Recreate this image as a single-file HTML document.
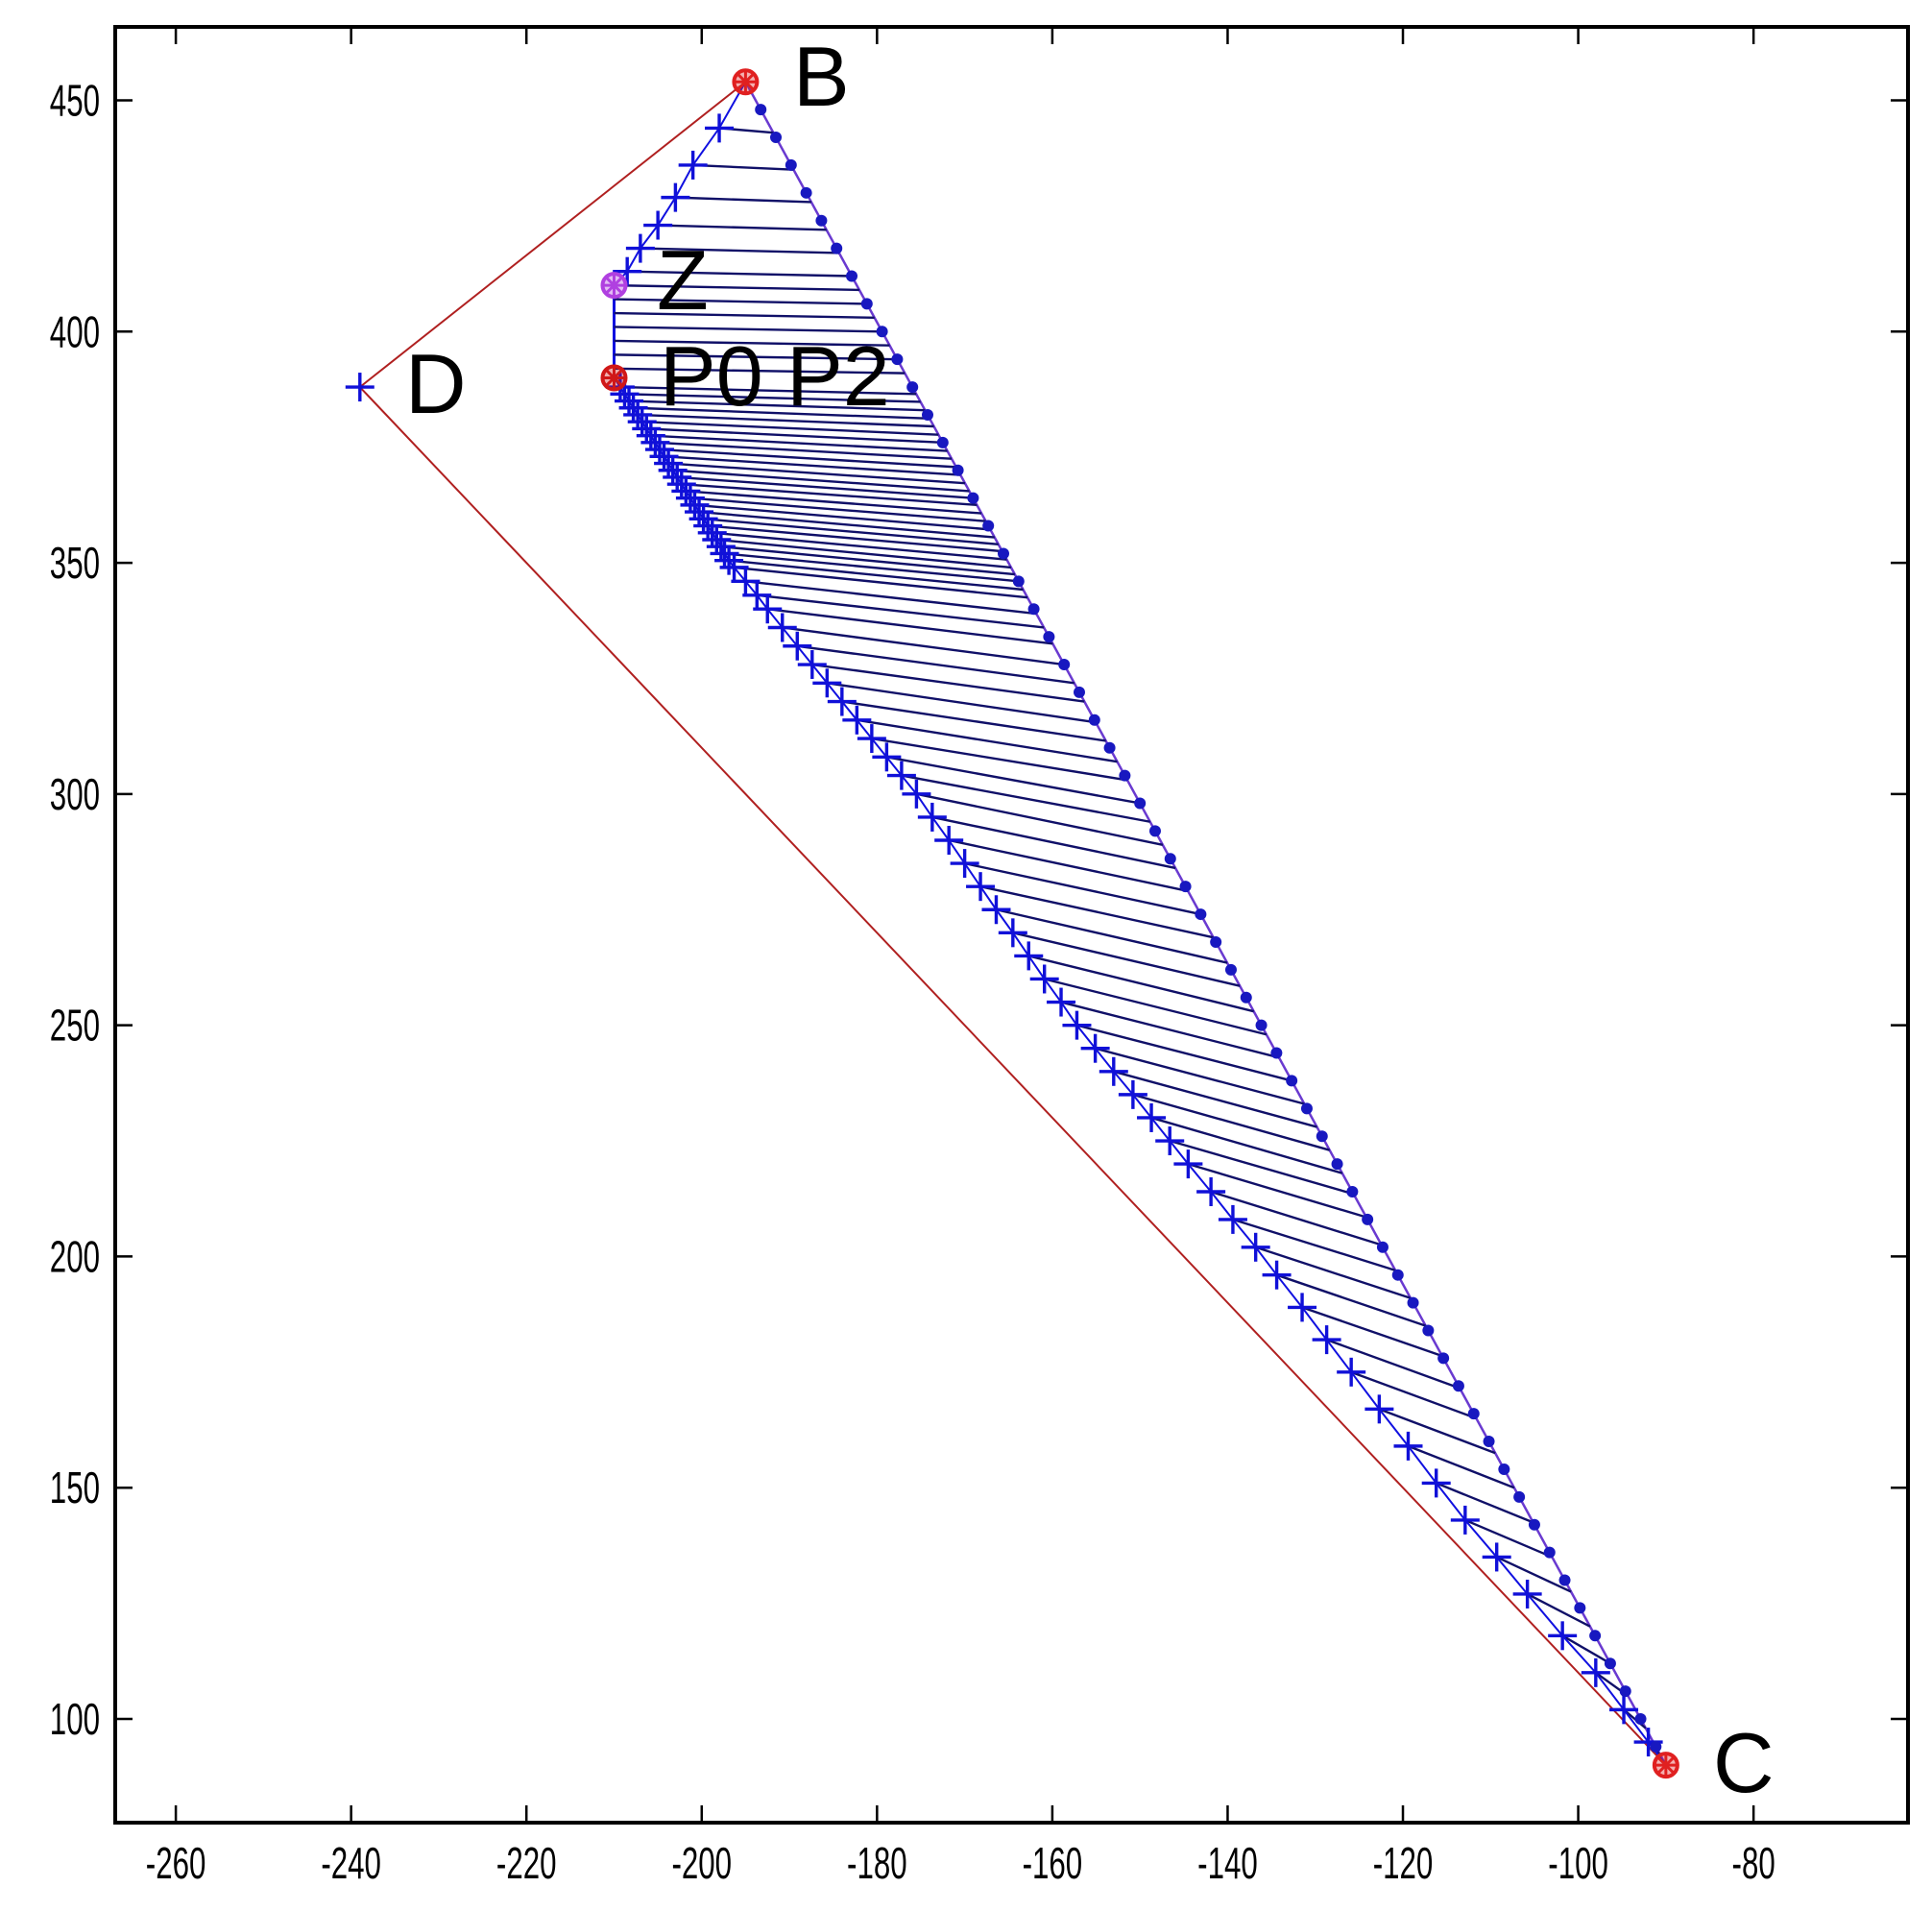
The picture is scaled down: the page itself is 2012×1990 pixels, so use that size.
<!DOCTYPE html>
<html><head><meta charset="utf-8"><style>
html,body{margin:0;padding:0;background:#fff;}
svg{display:block;}
</style></head><body>
<svg id="chart" width="2012" height="1990" viewBox="0 0 2012 1990" xmlns="http://www.w3.org/2000/svg">
<rect x="0" y="0" width="2012" height="1990" fill="#fff"/>
<g id="marks"></g>
<g id="axes"></g>
</svg>
<script>
const xTicks=[-260,-240,-220,-200,-180,-160,-140,-120,-100,-80];
const yTicks=[100,150,200,250,300,350,400,450];
const ptB=[-195,454], ptC=[-90,90], ptD=[-239,388], ptP0=[-210,390], ptZ=[-210,410];
const upperX=[-198,-201,-203,-205,-207,-208.5,-210];
const upperY=[444,436,429,423,418,413,410];
const upperEndY=[443,435,428,422,417,412,409];
const vertY=[407,404,401,398,395,392];
const vertEndY=[406,403,400,397,394,391];
const lowerY=[388,386.5,385,383.5,382,380.5,379,377.5,376,374.5,373,371.5,370,368.5,367,365.5,364,362.5,361,359.5,358,356.5,355,353.5,352,350.5,349,346,343,340,336,332,328,324,320,316,312,308,304,300,295,290,285,280,275,270,265,260,255,250,245,240,235,230,225,220,214,208,202,196,189,182,175,167,159,151,143,135,127,118,110,102,95];
const lowerX=[-209.3,-208.8,-208.3,-207.8,-207.3,-206.8,-206.3,-205.8,-205.3,-204.8,-204.3,-203.8,-203.3,-202.8,-202.3,-201.8,-201.3,-200.8,-200.3,-199.8,-199.3,-198.8,-198.3,-197.8,-197.4,-196.9,-196.3,-195,-193.7,-192.5,-190.8,-189.1,-187.4,-185.7,-184,-182.3,-180.6,-178.9,-177.2,-175.5,-173.7,-171.8,-170,-168.2,-166.4,-164.5,-162.7,-160.9,-159,-157.2,-155.1,-153,-150.8,-148.7,-146.6,-144.5,-141.9,-139.4,-136.8,-134.4,-131.5,-128.7,-125.9,-122.7,-119.4,-116.2,-112.9,-109.3,-105.8,-101.8,-98,-94.8,-92];
const lowerEndY=[386.5,384.8,383,381.2,379.5,377.7,376,374.2,372.5,370.7,369,367.2,365.5,364,362.5,360.7,359,357.2,355.5,354,352.5,350.7,349,347.5,346,344.2,342.5,339,336,332.5,328,324,320,315.5,311.5,307,303,298,294,289,284,279,274,269,263.5,258.5,253,248,243,238,233,228,223,218,213.5,208.5,202.5,197,191,185,178.5,171.5,165,157.5,150,142.5,135,127.5,120,112,105,98,92];
const dotY=[448,442,436,430,424,418,412,406,400,394,388,382,376,370,364,358,352,346,340,334,328,322,316,310,304,298,292,286,280,274,268,262,256,250,244,238,232,226,220,214,208,202,196,190,184,178,172,166,160,154,148,142,136,130,124,118,112,106,100,94];

const L=120,R=1987,T=28,B=1898;
function sx(v){return 183.1+(v+260)*9.128;}
function sy(v){return 104.5+(450-v)*4.8157;}
function bcX(y){return ptB[0]+(ptB[1]-y)/(ptB[1]-ptC[1])*(ptC[0]-ptB[0]);}
const NS='http://www.w3.org/2000/svg';
const marks=document.getElementById('marks'), axes=document.getElementById('axes');
function mk(tag,attrs,parent){const e=document.createElementNS(NS,tag);for(const k in attrs)e.setAttribute(k,attrs[k]);parent.appendChild(e);return e;}
function plus(x,y,name){const g=mk('g',{},marks);


mk('line',{x1:x-15,y1:y,x2:x+15,y2:y,stroke:'#1010d8','stroke-width':3.4},g);
mk('line',{x1:x,y1:y-15,x2:x,y2:y+15,stroke:'#1010d8','stroke-width':3.4},g);}
function star(x,y,col,name){const g=mk('g',{},marks);


mk('circle',{cx:x,cy:y,r:12,fill:col,'fill-opacity':0.35,stroke:col,'stroke-width':4},g);
for(let a=0;a<4;a++){const t=a*Math.PI/4;mk('line',{x1:x-12*Math.cos(t),y1:y-12*Math.sin(t),x2:x+12*Math.cos(t),y2:y+12*Math.sin(t),stroke:col,'stroke-width':3},g);}}

let e=mk('polyline',{points:`${sx(ptB[0])},${sy(ptB[1])} ${sx(ptD[0])},${sy(ptD[1])} ${sx(ptC[0])},${sy(ptC[1])}`,fill:'none',stroke:'#b02020','stroke-width':2},marks);


e=mk('line',{x1:sx(ptB[0]),y1:sy(ptB[1]),x2:sx(ptC[0]),y2:sy(ptC[1]),stroke:'#6a3ad0','stroke-width':2.5},marks);


e=mk('line',{x1:sx(ptZ[0]),y1:sy(ptZ[1]),x2:sx(ptP0[0]),y2:sy(ptP0[1]),stroke:'#1010e0','stroke-width':3},marks);


function fan(xs,ys,ey,name){for(let i=0;i<ys.length;i++){const x=Array.isArray(xs)?xs[i]:xs;
const l=mk('line',{x1:sx(x),y1:sy(ys[i]),x2:sx(bcX(ey[i])),y2:sy(ey[i]),stroke:'#101068','stroke-width':2.4},marks);

}}
fan(upperX,upperY,upperEndY,'fan-line');
fan(ptZ[0],vertY,vertEndY,'fan-line');
fan(lowerX,lowerY,lowerEndY,'fan-line');
let pts=upperX.map((x,i)=>`${sx(x)},${sy(upperY[i])}`).join(' ');
e=mk('polyline',{points:`${sx(ptB[0])},${sy(ptB[1])} `+pts,fill:'none',stroke:'#1010e0','stroke-width':2},marks);


pts=lowerX.map((x,i)=>`${sx(x)},${sy(lowerY[i])}`).join(' ');
e=mk('polyline',{points:`${sx(ptP0[0])},${sy(ptP0[1])} `+pts+` ${sx(ptC[0])},${sy(ptC[1])}`,fill:'none',stroke:'#1010e0','stroke-width':2},marks);


for(let i=0;i<upperX.length-1;i++)plus(sx(upperX[i]),sy(upperY[i]),'curve-marker');
for(let i=0;i<lowerX.length;i++)plus(sx(lowerX[i]),sy(lowerY[i]),'curve-marker');
plus(sx(ptD[0]),sy(ptD[1]),'point-d-marker');
for(let i=0;i<dotY.length;i++){const c=mk('circle',{cx:sx(bcX(dotY[i])),cy:sy(dotY[i]),r:6,fill:'#1818c0'},marks);

}
star(sx(ptB[0]),sy(ptB[1]),'#e02020','point-b-marker');
star(sx(ptC[0]),sy(ptC[1]),'#e02020','point-c-marker');
star(sx(ptP0[0]),sy(ptP0[1]),'#d01818','point-p0-marker');
star(sx(ptZ[0]),sy(ptZ[1]),'#b040e0','point-z-marker');
const labs=[['B',826,110,'label-b'],['Z',684,322,'label-z'],['P0 P2',687,422,'label-p0-p2'],['D',422,430,'label-d'],['C',1784,1866,'label-c']];
for(const [t,x,y,n] of labs){const tx=mk('text',{x:x,y:y,'font-family':'Liberation Sans, sans-serif','font-size':88,fill:'#000'},marks);
tx.textContent=t;

}
e=mk('rect',{x:L,y:T,width:R-L,height:B-T,fill:'none',stroke:'#000','stroke-width':4},axes);


for(const v of xTicks){const x=sx(v);
mk('line',{x1:x,y1:B,x2:x,y2:B-18,stroke:'#000','stroke-width':2.5},axes);
mk('line',{x1:x,y1:T,x2:x,y2:T+18,stroke:'#000','stroke-width':2.5},axes);
const t=mk('text',{x:x,y:1956,'text-anchor':'middle','font-family':'Liberation Sans, sans-serif','font-size':46,fill:'#000',transform:`translate(${x},0) scale(0.68,1) translate(${-x},0)`},axes);
t.textContent=String(v);

}
for(const v of yTicks){const y=sy(v);
mk('line',{x1:L,y1:y,x2:L+18,y2:y,stroke:'#000','stroke-width':2.5},axes);
mk('line',{x1:R,y1:y,x2:R-18,y2:y,stroke:'#000','stroke-width':2.5},axes);
const t=mk('text',{x:104,y:y+16,'text-anchor':'end','font-family':'Liberation Sans, sans-serif','font-size':46,fill:'#000',transform:`translate(104,0) scale(0.68,1) translate(-104,0)`},axes);
t.textContent=String(v);

}
</script>
</body></html>
